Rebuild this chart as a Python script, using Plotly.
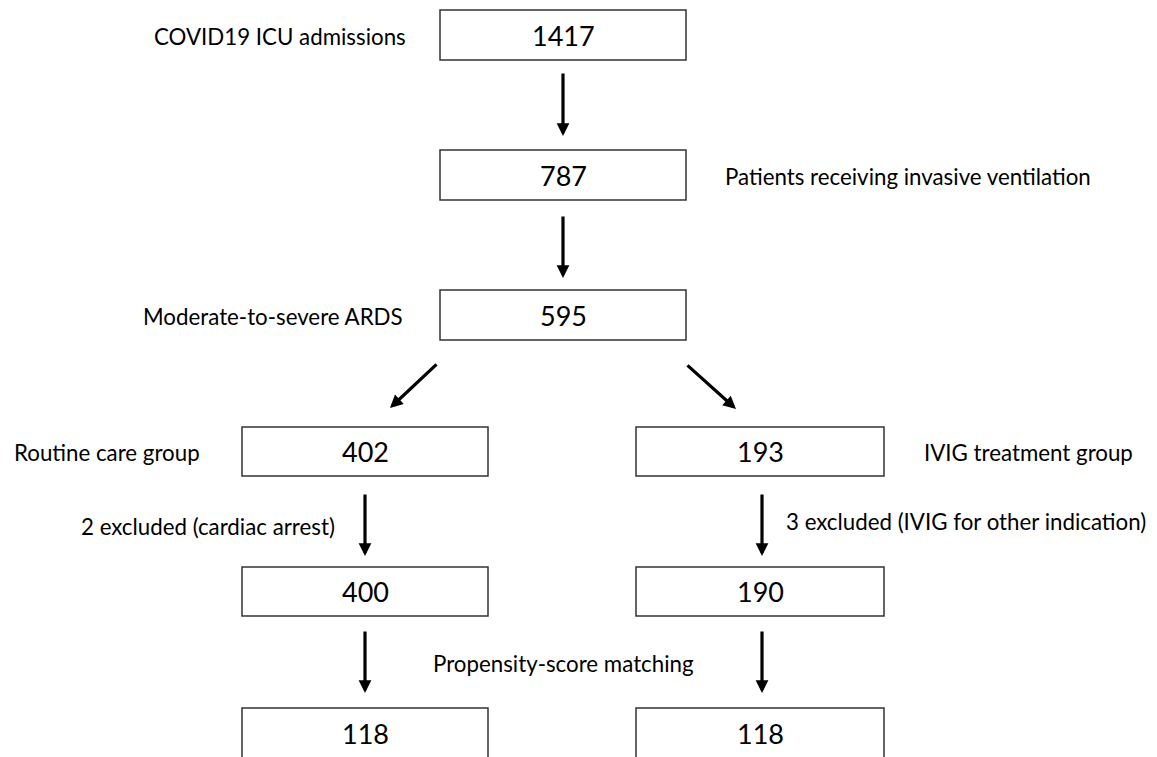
import plotly.graph_objects as go

# ---- data ----
box_values = ["1417", "787", "595", "402", "193", "400", "190", "118", "118"]
side_labels = [
    "COVID19 ICU admissions",
    "Patients receiving invasive ventilation",
    "Moderate-to-severe ARDS",
    "Routine care group",
    "IVIG treatment group",
    "2 excluded (cardiac arrest)",
    "3 excluded (IVIG for other indication)",
    "Propensity-score matching",
]

# ---- layout (pixel space) ----
W, H = 1157, 757
OFF = 8  # page body margin
box_rects = [
    (440, 10, 686, 60),
    (440, 150, 686, 200),
    (440, 290, 686, 340),
    (242, 427, 488, 476),
    (636, 427, 884, 476),
    (242, 567, 488, 616),
    (636, 567, 884, 616),
    (242, 708, 488, 790),
    (636, 708, 884, 790),
]
label_pos = [
    (280, 36), (908, 176), (273, 316), (107, 452), (1028, 452),
    (208, 526), (966, 521), (563, 663),
]
arrows = [  # (x_tail, y_tail, x_head, y_head)
    (563, 72, 563, 136),
    (563, 215, 563, 278),
    (438, 363, 390, 408),
    (686, 364, 736, 409),
    (365, 493, 365, 556),
    (762, 493, 762, 556),
    (365, 630, 365, 693),
    (762, 630, 762, 693),
]

FONT = "Lato, 'Open Sans', sans-serif"
fig = go.Figure()
fig.add_trace(go.Scatter(x=[0, W], y=[0, H], mode="markers",
                         marker=dict(opacity=0), hoverinfo="skip", showlegend=False))

for (x0, y0, x1, y1), v in zip(box_rects, box_values):
    fig.add_shape(type="rect", x0=x0, y0=y0, x1=x1, y1=y1,
                  line=dict(color="#333333", width=1.5), fillcolor="white")
    yc = (y0 + y1) / 2 if y1 - y0 < 60 else y0 + 25
    fig.add_annotation(x=(x0 + x1) / 2, y=yc, text=v, showarrow=False,
                       font=dict(family=FONT, size=27, color="#000000"),
                       xanchor="center", yanchor="middle")

for (x, y), t in zip(label_pos, side_labels):
    fig.add_annotation(x=x, y=y, text=t, showarrow=False,
                       font=dict(family=FONT, size=22.3, color="#000000"),
                       xanchor="center", yanchor="middle")

for xt, yt, xh, yh in arrows:
    fig.add_annotation(x=xh, y=yh, ax=xt, ay=yt, xref="x", yref="y",
                       axref="x", ayref="y", text="", showarrow=True,
                       arrowhead=2, arrowsize=0.8, arrowwidth=3.2, arrowcolor="#000000")

fig.update_xaxes(range=[OFF, W + OFF], visible=False, fixedrange=True)
fig.update_yaxes(range=[H + OFF, OFF], visible=False, fixedrange=True)
fig.update_layout(width=W, height=H, margin=dict(l=0, r=0, t=0, b=0),
                  plot_bgcolor="white", paper_bgcolor="white")
fig.write_html("out.html")
